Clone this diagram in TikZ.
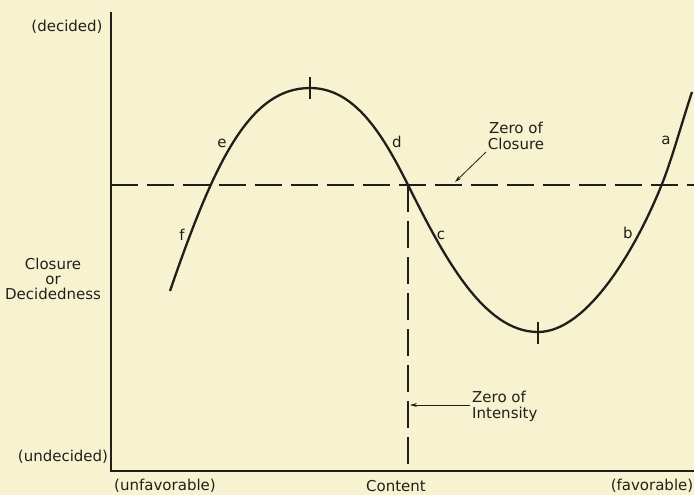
\documentclass[tikz,border=0pt]{standalone}
\usepackage{fontspec}
\setmainfont{DejaVu Sans}
\usetikzlibrary{arrows.meta}
\definecolor{paper}{RGB}{247,243,208}
\definecolor{ink}{RGB}{34,31,26}
\tikzset{
  lbl/.style={inner sep=0pt, text=ink, font=\fontsize{15}{18}\selectfont},
  letter/.style={lbl},
  axisline/.style={draw=ink, line width=2pt},
  curveline/.style={draw=ink, line width=2.3pt},
  zeroline/.style={draw=ink, line width=2.8pt, dash pattern=on 27pt off 9pt},
  pointer/.style={draw=ink, line width=0.8pt, -{Stealth[length=7pt,width=4pt]}},
  tickmark/.style={draw=ink, line width=1.3pt}
}
\begin{document}
\begin{tikzpicture}[x=1pt,y=-1pt]
\fill[paper] (0,0) rectangle (694,495);
\useasboundingbox (0,0) rectangle (694,495);
% axes
\coordinate (O) at (111,471);
\coordinate (ytop) at (111,12);
\coordinate (xend) at (694,471);
\draw[axisline] (ytop) -- (O) -- (xend);
% zero lines
\coordinate (zl) at (111,185);
\coordinate (zr) at (694,185);
\coordinate (zx) at (408,185);
\coordinate (zb) at (408,471);
\draw[zeroline] (zl) -- (zr);
\draw[zeroline] (zx) -- (zb);
% curve
\coordinate (c0) at (170,291);
\coordinate (cmax) at (310,88);
\coordinate (cmid) at (408,185);
\coordinate (cmin) at (538,332);
\coordinate (cr) at (662,184);
\coordinate (cend) at (692,92);
\draw[curveline] (c0) .. controls (215,160) and (250,88) .. (cmax)
  .. controls (355,88) and (383,135) .. (cmid)
  .. controls (443,255) and (483,332) .. (cmin)
  .. controls (588,332) and (637,246.5) .. (cr)
  .. controls (672,159) and (682,122) .. (cend);
\draw[tickmark] (310,77) -- (310,99);
\draw[tickmark] (538,322) -- (538,344);
% curve letters
\node[letter] (la) at (666,140) {a};
\node[letter] (lb) at (628,233) {b};
\node[letter] (lc) at (441,235) {c};
\node[letter] (ld) at (397,142) {d};
\node[letter] (le) at (222,143) {e};
\node[letter] (lf) at (182,235) {f};
% axis labels
\node[lbl] (decided) at (67,27) {(decided)};
\node[lbl] (undecided) at (63,457) {(undecided)};
\node[lbl, align=center] (closure) at (53,279) {Closure\\[-3pt]or\\[-3pt]Decidedness};
\node[lbl] (unfav) at (165,486) {(unfavorable)};
\node[lbl] (content) at (396,486) {Content};
\node[lbl] (fav) at (652,486) {(favorable)};
% zero annotations
\node[lbl, align=center] (zc) at (516,136) {Zero of\\[-2pt]Closure};
\coordinate (zcfrom) at (486,152);
\coordinate (zcto) at (455,182);
\draw[pointer] (zcfrom) -- (zcto);
\node[lbl, align=left, anchor=west] (zi) at (472,406) {Zero of\\[-2pt]Intensity};
\coordinate (zifrom) at (470,405);
\coordinate (zito) at (410,405);
\draw[pointer] (zifrom) -- (zito);
\end{tikzpicture}
\end{document}
